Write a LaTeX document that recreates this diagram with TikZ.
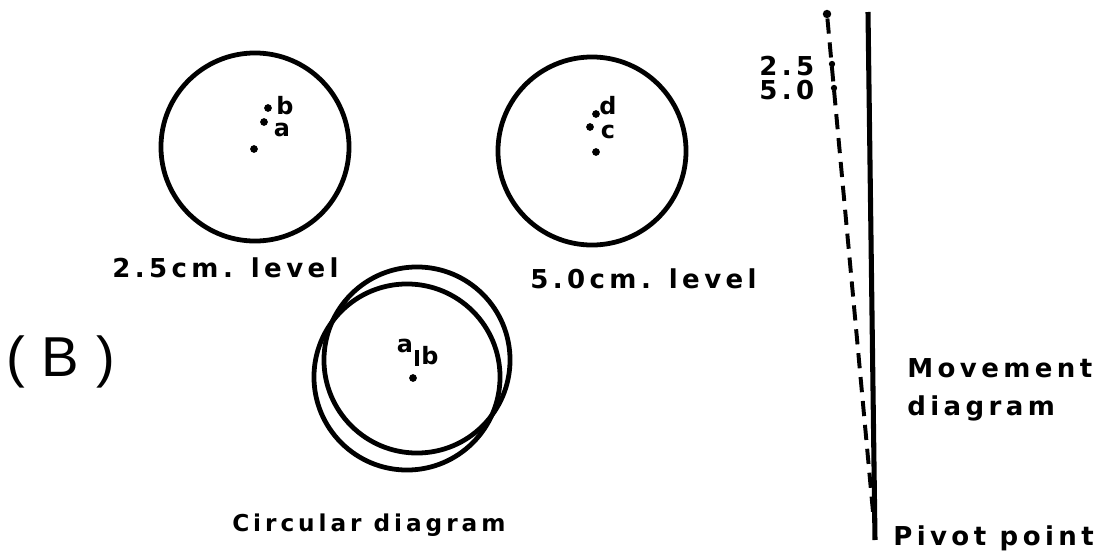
\documentclass[tikz,border=0pt]{standalone}
\usepackage{fontspec}
\setmainfont{Liberation Sans}
\newfontfamily\lblfont[LetterSpace=17]{DejaVu Sans Bold}
\newfontfamily\tagfont{DejaVu Sans Bold}
\newfontfamily\bigfont[LetterSpace=30]{Liberation Sans}
\usetikzlibrary{positioning}

\tikzset{
  ring/.style={draw,circle,line width=3.4pt,inner sep=0pt},
  spot/.style={circle,fill,inner sep=0pt,minimum size=5.5pt},
  tag/.style={inner sep=0pt,font=\tagfont\fontsize{17}{19}\selectfont},
  caption/.style={inner sep=0pt,anchor=west,font=\lblfont\fontsize{18.5}{21}\selectfont},
}

\begin{document}
\begin{tikzpicture}[x=0.025cm,y=-0.025cm]
  \useasboundingbox (0,0) rectangle (1119,552);

  % 2.5 cm level
  \node[ring,minimum size=4.7cm] (lvlA) at (255,147) {};
  \node[spot] (ctrA) at (254,149) {};
  \node[spot] (pa) at (264,122) {};
  \node[spot] (pb) at (268,108) {};
  \node[tag] (ta) at (282,130) {a};
  \node[tag] (tb) at (285,106) {b};
  \node[caption] (capA) at (112,268) {2.5cm. level};

  % 5.0 cm level
  \node[ring,minimum size=4.7cm] (lvlB) at (592,151) {};
  \node[spot] (ctrB) at (596,152) {};
  \node[spot] (pc) at (590,127) {};
  \node[spot] (pd) at (596,114) {};
  \node[tag] (tc) at (608,132) {c};
  \node[tag] (td) at (608,106) {d};
  \node[caption] (capB) at (530,279) {5.0cm. level};

  % circular diagram
  \node[ring,minimum size=4.65cm] (cirA) at (417,360) {};
  \node[ring,minimum size=4.65cm] (cirB) at (407,377) {};
  \node[spot] (ctrC) at (413,378) {};
  \node[tag] (tab) at (405,346) {a};
  \node[tag] (tbb) at (430,356) {b};
  \draw[line width=2.6pt] (417,350) -- (417,366);
  \node[caption,font=\lblfont\fontsize{16.5}{19}\selectfont] (capC) at (232,525) {Circular diagram};

  \node[inner sep=0pt,anchor=west,font=\bigfont\fontsize{40}{44}\selectfont] (part) at (6,362) {(B)};

  % movement diagram
  \coordinate (axTop) at (868,12);
  \coordinate (axBot) at (875,540);
  \draw[line width=3.6pt] (axTop) -- (axBot);
  \node[spot,minimum size=6pt] (swTop) at (827,14) {};
  \coordinate (swBot) at (873,512);
  \draw[line width=2.8pt,dash pattern=on 0.38cm off 0.22cm] (swTop) -- (swBot);
  \node[spot,minimum size=4.5pt] (mk25) at (832,64) {};
  \node[spot,minimum size=4.5pt] (mk50) at (834,88) {};
  \node[caption] (t25) at (759,66) {2.5};
  \node[caption] (t50) at (759,90) {5.0};
  \node[caption] (capM) at (907,368) {Movement};
  \node[caption] (capM2) at (907,408) {diagram};
  \node[caption] (capP) at (893,538) {Pivot point};
\end{tikzpicture}
\end{document}
